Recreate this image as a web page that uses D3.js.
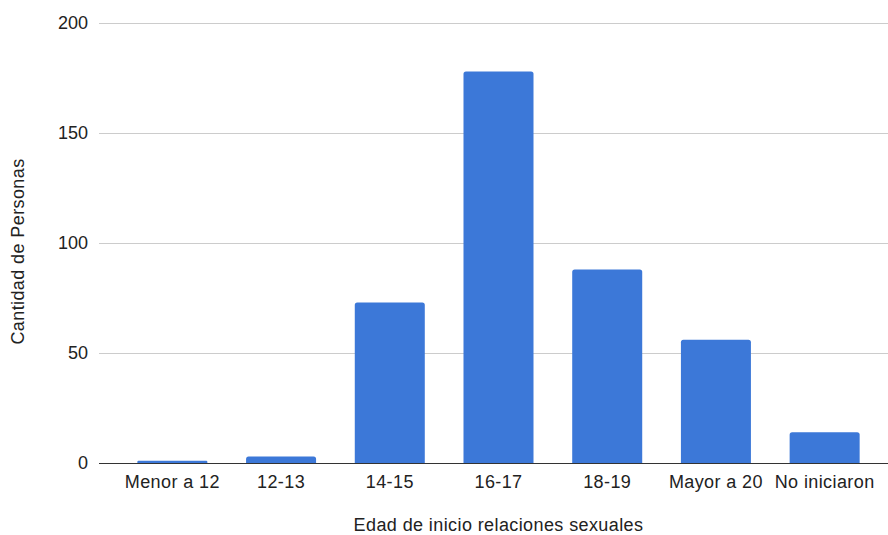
<!DOCTYPE html>
<html><head><meta charset="utf-8">
<script src="https://cdn.jsdelivr.net/npm/d3@7"></script>
<style>
html,body{margin:0;padding:0;background:#fff;}
svg{display:block;font-family:"Liberation Sans",Arial,sans-serif;}
</style></head>
<body>
<svg id="c" width="888" height="535"></svg>
<script>
const categories = ["Menor a 12","12-13","14-15","16-17","18-19","Mayor a 20","No iniciaron"];
const values = [1, 3, 73, 178, 88, 56, 14];
const yTicks = [0, 50, 100, 150, 200];
const xTitle = "Edad de inicio relaciones sexuales";
const yTitle = "Cantidad de Personas";

(function () {
const svg = d3.select("#c");
const plotLeft = 99, plotRight = 888, plotTop = 23, plotBottom = 463;

const x = d3.scaleBand().domain(categories).range([118, 879]).paddingInner(0.356).paddingOuter(0.178);
const y = d3.scaleLinear().domain([0, 200]).range([plotBottom, plotTop]);

// gridlines
svg.append("g").selectAll("line").data(yTicks.filter(d => d !== 0)).join("line")
  .attr("x1", plotLeft).attr("x2", plotRight)
  .attr("y1", d => y(d) + 0.5).attr("y2", d => y(d) + 0.5)
  .attr("stroke", "#cccccc").attr("stroke-width", 1);

// y tick labels
svg.append("g").selectAll("text").data(yTicks).join("text")
  .attr("x", 88).attr("y", d => y(d))
  .attr("dy", "0.35em").attr("text-anchor", "end")
  .attr("font-size", 18).attr("fill", "#222")
  .text(d => d);

// bars with rounded top corners
const r = 2.5;
function barPath(x0, w, yTop, yBot) {
  const h = yBot - yTop;
  const rr = Math.min(r, h / 2, w / 2);
  return `M${x0},${yBot}V${yTop + rr}Q${x0},${yTop} ${x0 + rr},${yTop}H${x0 + w - rr}Q${x0 + w},${yTop} ${x0 + w},${yTop + rr}V${yBot}Z`;
}
svg.append("g").selectAll("path").data(categories).join("path")
  .attr("d", (c, i) => barPath(x(c), x.bandwidth(), y(values[i]), y(0)))
  .attr("fill", "#3c78d8");

// baseline
svg.append("line").attr("x1", plotLeft).attr("x2", plotRight)
  .attr("y1", y(0) + 0.5).attr("y2", y(0) + 0.5)
  .attr("stroke", "#333333").attr("stroke-width", 1);

// x tick labels
svg.append("g").selectAll("text").data(categories).join("text")
  .attr("x", c => x(c) + x.bandwidth() / 2).attr("y", 488)
  .attr("text-anchor", "middle").attr("font-size", 18).attr("fill", "#222")
  .attr("letter-spacing", 0.4)
  .text(c => c);

// axis titles
svg.append("text").attr("x", x(categories[3]) + x.bandwidth() / 2).attr("y", 531)
  .attr("text-anchor", "middle").attr("font-size", 18).attr("fill", "#222")
  .attr("letter-spacing", 0.4)
  .text(xTitle);
svg.append("text").attr("transform", `translate(24,${(160 + 343) / 2}) rotate(-90)`)
  .attr("text-anchor", "middle").attr("font-size", 18).attr("fill", "#222")
  .attr("letter-spacing", 0.4)
  .text(yTitle);
})();
</script>
</body></html>
